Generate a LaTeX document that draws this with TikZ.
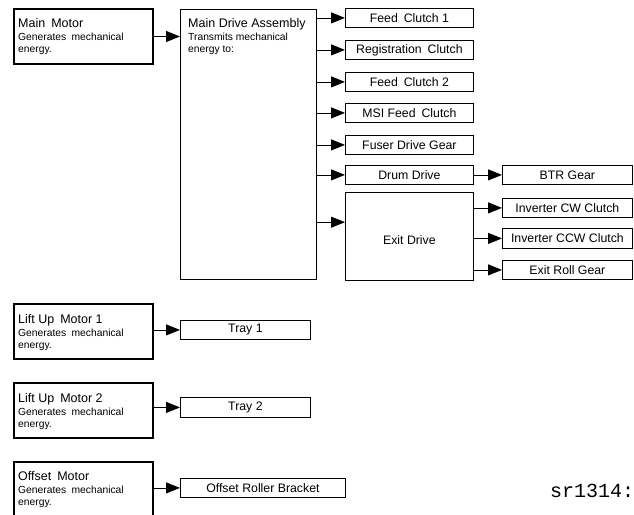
\documentclass[tikz,border=0pt]{standalone}
\usepackage{fontspec}
\setmainfont{Liberation Sans}
\newfontfamily\codefont{Liberation Mono}
\usetikzlibrary{arrows.meta,calc}

\tikzset{
  unitbox/.style={draw, line width=0.8pt, inner sep=0pt, anchor=north west,
    font=\fontsize{12.3}{13}\selectfont},
  motorbox/.style={draw, line width=2pt, inner sep=0pt, anchor=north west,
    minimum width=139pt},
  title/.style={anchor=north west, inner sep=0pt, align=left,
    font=\fontsize{10.3}{12}\selectfont},
  feed/.style={line width=0.8pt, -{Triangle[length=14pt,width=11pt]}},
}
\newcommand{\boxtitle}[1]{{\fontsize{12.5}{13}\selectfont #1}\\[1pt]}
\newcommand{\wsp}{\hspace{2.5pt}}

\begin{document}
\begin{tikzpicture}[x=1pt,y=-1pt]
\path[use as bounding box, clip] (0,0) rectangle (634,514);
\fill[white] (0,0) rectangle (634,514);

% source motors
\node[motorbox, minimum height=55pt] (mm)  at (13,8)   {};
\node[motorbox, minimum height=55pt] (lm1) at (13,303) {};
\node[motorbox, minimum height=55pt] (lm2) at (13,382) {};
\node[motorbox, minimum height=75pt] (om)  at (13,461) {};
\node[title] (mmt)  at (18,18)  {\boxtitle{Main\wsp{} Motor}Generates\wsp{} mechanical\\energy.};
\node[title] (lm1t) at (18,314) {\boxtitle{Lift Up\wsp{} Motor 1}Generates\wsp{} mechanical\\energy.};
\node[title] (lm2t) at (18,393) {\boxtitle{Lift Up\wsp{} Motor 2}Generates\wsp{} mechanical\\energy.};
\node[title] (omt)  at (18,471) {\boxtitle{Offset\wsp{} Motor}Generates\wsp{} mechanical\\energy.};

% main drive assembly
\node[unitbox, minimum width=136pt, minimum height=270pt] (mda) at (180,9) {};
\node[title] (mdat) at (188,18) {\boxtitle{Main Drive Assembly}Transmits mechanical\\energy to:};

% outputs of the main drive
\node[unitbox, minimum width=128pt, minimum height=19pt] (fc1)  at (345,8)   {Feed\wsp{} Clutch 1};
\node[unitbox, minimum width=128pt, minimum height=19pt] (reg)  at (345,40)  {Registration\wsp{} Clutch};
\node[unitbox, minimum width=128pt, minimum height=19pt] (fc2)  at (345,72)  {Feed\wsp{} Clutch 2};
\node[unitbox, minimum width=128pt, minimum height=19pt] (msi)  at (345,103) {MSI Feed\wsp{} Clutch};
\node[unitbox, minimum width=128pt, minimum height=19pt] (fus)  at (345,135) {Fuser Drive Gear};
\node[unitbox, minimum width=128pt, minimum height=19pt] (drum) at (345,165) {Drum Drive};
\node[unitbox, minimum width=128pt, minimum height=88pt, text height=17pt] (exd) at (345,192) {Exit Drive};

% second stage
\node[unitbox, minimum width=130pt, minimum height=19pt] (btr) at (502,165) {BTR Gear};
\node[unitbox, minimum width=130pt, minimum height=19pt] (icw) at (502,198) {Inverter CW Clutch};
\node[unitbox, minimum width=130pt, minimum height=20pt] (iccw) at (502,228) {Inverter CCW Clutch};
\node[unitbox, minimum width=130pt, minimum height=19pt] (erg) at (502,260) {Exit Roll Gear};

% trays and bracket
\node[unitbox, minimum width=130pt, minimum height=19pt] (tray1) at (180,320) {Tray 1};
\node[unitbox, minimum width=130pt, minimum height=20pt] (tray2) at (180,397) {Tray 2};
\node[unitbox, minimum width=165pt, minimum height=19pt] (orb)   at (180,478) {Offset Roller Bracket};

\node[anchor=base west, inner sep=0pt, font=\codefont\fontsize{20}{20}\selectfont] (ref) at (550,497) {sr1314:};

% connectors
\draw[feed] (mm.east) -- (mda.west |- mm.east);
\foreach \t in {fc1,reg,fc2,msi,fus,drum}
  \draw[feed] (mda.east |- \t.west) -- (\t.west);
\coordinate (exin) at ($(exd.north west)!0.34!(exd.south west)$);
\draw[feed] (mda.east |- exin) -- (exin);
\draw[feed] (drum.east) -- (btr.west);
\foreach \t in {icw,iccw,erg}
  \draw[feed] (exd.east |- \t.west) -- (\t.west);
\draw[feed] (lm1.east |- tray1.west) -- (tray1.west);
\draw[feed] (lm2.east |- tray2.west) -- (tray2.west);
\draw[feed] (om.east |- orb.west) -- (orb.west);
\end{tikzpicture}
\end{document}
